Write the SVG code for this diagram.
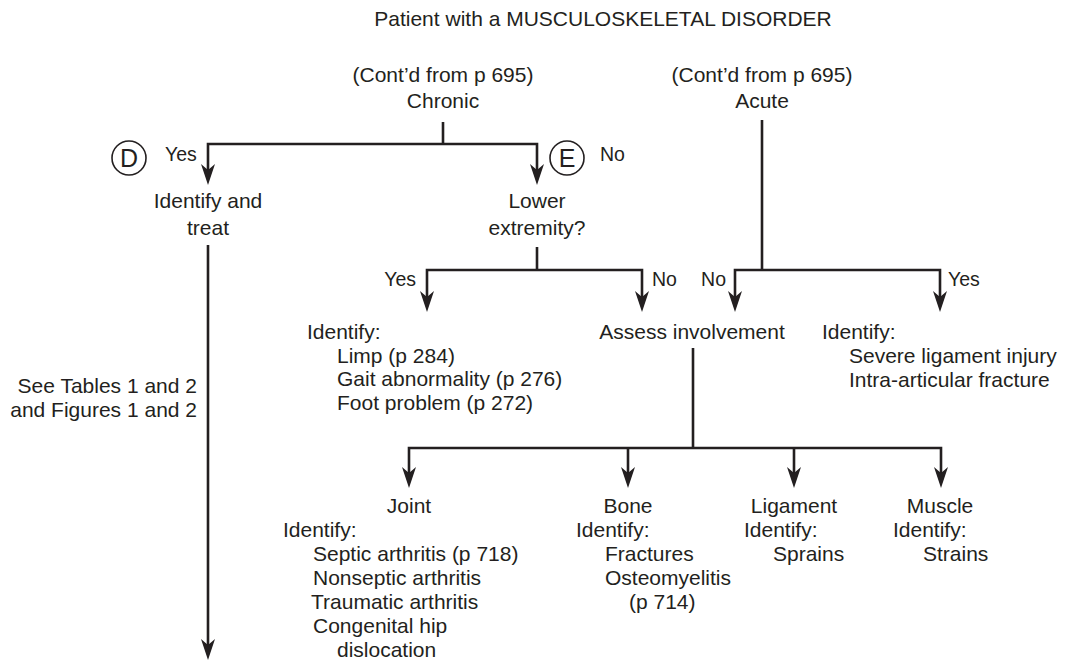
<svg xmlns="http://www.w3.org/2000/svg" width="1066" height="662" viewBox="0 0 1066 662">
  <style>
    text { font-family: "Liberation Sans", Arial, sans-serif; font-size: 21px; fill: #231f20; }
    .c { text-anchor: middle; }
    .r { text-anchor: end; }
    .lbl { font-size: 19.5px; }
    .tag { font-size: 25px; text-anchor: middle; }
    .wire { fill: none; stroke: #231f20; stroke-width: 2.6; stroke-linejoin: miter; }
    .ring { fill: none; stroke: #231f20; stroke-width: 1.6; }
  </style>
  <defs>
    <!-- barbed arrowhead; the tip sits 8px past the end of the line -->
    <marker id="arrow" markerUnits="userSpaceOnUse" markerWidth="24" markerHeight="16" viewBox="-22 -8 24 16" refX="-8" refY="0" orient="auto" overflow="visible">
      <path d="M0,0 L-21,-7 L-15,0 L-21,7 Z" fill="#231f20"/>
    </marker>
  </defs>

  <rect width="1066" height="662" fill="#ffffff"/>

  <g id="title">
    <text class="c" x="603" y="26">Patient with a MUSCULOSKELETAL DISORDER</text>
  </g>

  <g id="chronic">
    <text class="c" x="443" y="82">(Cont’d from p 695)</text>
    <text class="c" x="443" y="108">Chronic</text>
  </g>

  <g id="acute">
    <text class="c" x="762" y="82">(Cont’d from p 695)</text>
    <text class="c" x="762" y="108">Acute</text>
  </g>

  <g id="connector-D">
    <circle class="ring" cx="129" cy="158" r="17"/>
    <text class="tag" x="129" y="167">D</text>
    <text class="lbl" x="165" y="161">Yes</text>
  </g>

  <g id="connector-E">
    <circle class="ring" cx="567" cy="158" r="17"/>
    <text class="tag" x="567" y="167">E</text>
    <text class="lbl" x="600" y="161">No</text>
  </g>

  <g id="identify-treat">
    <text class="c" x="208" y="208">Identify and</text>
    <text class="c" x="208" y="235">treat</text>
  </g>

  <g id="lower-extremity">
    <text class="c" x="537" y="208">Lower</text>
    <text class="c" x="537" y="235">extremity?</text>
  </g>

  <g id="see-tables">
    <text class="r" x="197" y="393">See Tables 1 and 2</text>
    <text class="r" x="197" y="417">and Figures 1 and 2</text>
  </g>

  <g id="lower-identify">
    <text x="307" y="339">Identify:</text>
    <text x="337" y="363">Limp (p 284)</text>
    <text x="337" y="386">Gait abnormality (p 276)</text>
    <text x="337" y="410">Foot problem (p 272)</text>
  </g>

  <g id="assess">
    <text class="c" x="692" y="339">Assess involvement</text>
  </g>

  <g id="acute-identify">
    <text x="822" y="339">Identify:</text>
    <text x="849" y="363">Severe ligament injury</text>
    <text x="849" y="387">Intra-articular fracture</text>
  </g>

  <g id="joint">
    <text class="c" x="409" y="513">Joint</text>
    <text x="283" y="537">Identify:</text>
    <text x="313" y="561">Septic arthritis (p 718)</text>
    <text x="313" y="585">Nonseptic arthritis</text>
    <text x="311" y="609">Traumatic arthritis</text>
    <text x="313" y="633">Congenital hip</text>
    <text x="337" y="657">dislocation</text>
  </g>

  <g id="bone">
    <text class="c" x="628" y="513">Bone</text>
    <text x="576" y="537">Identify:</text>
    <text x="605" y="561">Fractures</text>
    <text x="605" y="585">Osteomyelitis</text>
    <text x="629" y="609">(p 714)</text>
  </g>

  <g id="ligament">
    <text class="c" x="794" y="513">Ligament</text>
    <text x="744" y="537">Identify:</text>
    <text x="773" y="561">Sprains</text>
  </g>

  <g id="muscle">
    <text class="c" x="940" y="513">Muscle</text>
    <text x="893" y="537">Identify:</text>
    <text x="923" y="561">Strains</text>
  </g>

  <g id="branch-labels">
    <text class="lbl r" x="416" y="286">Yes</text>
    <text class="lbl" x="652" y="286">No</text>
    <text class="lbl r" x="726" y="286">No</text>
    <text class="lbl" x="948" y="286">Yes</text>
  </g>

  <g id="connectors">
    <!-- chronic split -->
    <path class="wire" d="M443,122 V144"/>
    <path class="wire" d="M443,144 H208 V177" marker-end="url(#arrow)"/>
    <path class="wire" d="M443,144 H537 V177" marker-end="url(#arrow)"/>
    <!-- identify and treat, long run -->
    <path class="wire" d="M208,245 V652" marker-end="url(#arrow)"/>
    <!-- lower extremity split -->
    <path class="wire" d="M537,247 V270"/>
    <path class="wire" d="M537,270 H427 V304" marker-end="url(#arrow)"/>
    <path class="wire" d="M537,270 H642 V304" marker-end="url(#arrow)"/>
    <!-- acute split -->
    <path class="wire" d="M762,120 V270"/>
    <path class="wire" d="M762,270 H735 V304" marker-end="url(#arrow)"/>
    <path class="wire" d="M762,270 H940 V304" marker-end="url(#arrow)"/>
    <!-- involvement split -->
    <path class="wire" d="M693,348 V448"/>
    <path class="wire" d="M693,448 H409 V480" marker-end="url(#arrow)"/>
    <path class="wire" d="M628,448 V480" marker-end="url(#arrow)"/>
    <path class="wire" d="M693,448 H941 V480" marker-end="url(#arrow)"/>
    <path class="wire" d="M794,448 V480" marker-end="url(#arrow)"/>
  </g>
</svg>
